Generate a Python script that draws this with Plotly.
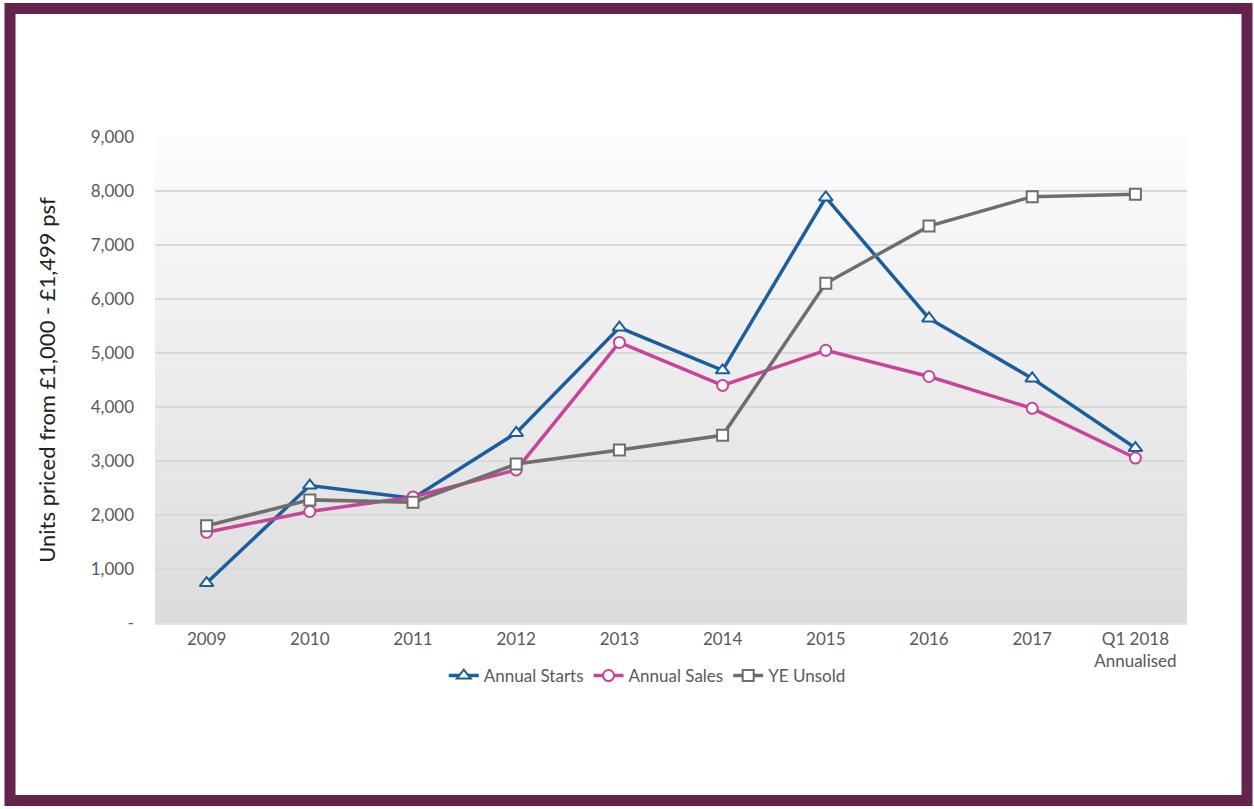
import plotly.graph_objects as go

categories = ["2009", "2010", "2011", "2012", "2013", "2014", "2015", "2016", "2017", "Q1 2018<br>Annualised"]
annual_starts = [740, 2545, 2310, 3520, 5470, 4680, 7880, 5640, 4530, 3240]
annual_sales = [1680, 2065, 2335, 2835, 5195, 4400, 5050, 4565, 3975, 3055]
ye_unsold = [1800, 2280, 2235, 2945, 3205, 3475, 6290, 7350, 7895, 7940]

y_tickvals = [0, 1000, 2000, 3000, 4000, 5000, 6000, 7000, 8000, 9000]
y_ticktext = ["-", "1,000", "2,000", "3,000", "4,000", "5,000", "6,000", "7,000", "8,000", "9,000"]

W, H = 1254, 809
L, R, T, B = 155, 1187, 137, 623
FONT = "Lato"

def px_x(px):
    return (px - L) / (R - L)

def px_y(py):
    return (B - py) / (B - T)

fig = go.Figure()

series = [
    ("Annual Starts", annual_starts, "#1B5E9E", "triangle-up", 12, 3.5),
    ("Annual Sales", annual_sales, "#C8449B", "circle", 11, 3.5),
    ("YE Unsold", ye_unsold, "#6E6E6E", "square", 11, 3.5),
]
for name, vals, col, sym, size, lw in series:
    fig.add_trace(go.Scatter(
        x=categories, y=vals, name=name, mode="lines+markers",
        line=dict(color=col, width=lw),
        marker=dict(symbol=sym, size=size, color="white", line=dict(color=col, width=2)),
    ))

shapes = []
# gradient plot background
n = 60
top_c = (252, 252, 252)
bot_c = (220, 220, 220)
for i in range(n):
    t = (i + 0.5) / n
    c = tuple(round(top_c[k] + (bot_c[k] - top_c[k]) * t) for k in range(3))
    shapes.append(dict(type="rect", xref="paper", yref="paper", x0=0, x1=1,
                       y0=1 - (i + 1) / n, y1=1 - i / n + 0.001,
                       fillcolor="rgb(%d,%d,%d)" % c, line=dict(width=0), layer="below"))
# purple frame
shapes.append(dict(type="rect", xref="paper", yref="paper",
                   x0=px_x(10), x1=px_x(1247), y0=px_y(8.5), y1=px_y(800.5),
                   line=dict(color="#64234C", width=11), fillcolor="rgba(0,0,0,0)", layer="above"))

fig.update_layout(
    width=W, height=H,
    margin=dict(l=L, r=W - R, t=T, b=H - B),
    paper_bgcolor="white", plot_bgcolor="white",
    font=dict(family=FONT, color="#595959", size=16),
    shapes=shapes,
    showlegend=True,
    legend=dict(orientation="h", x=0.477, xanchor="center", y=px_y(676), yanchor="middle",
                font=dict(size=17, color="#595959"), bgcolor="rgba(0,0,0,0)", itemwidth=30),
    xaxis=dict(type="category", range=[-0.5, 9.5], showgrid=False, showline=True,
               linecolor="#E6E6E6", linewidth=1.5,
               ticks="", tickfont=dict(size=17, color="#595959"), zeroline=False),
    yaxis=dict(range=[0, 9000], tickvals=y_tickvals, ticktext=y_ticktext,
               showgrid=True, gridcolor="#D9D9D9", gridwidth=1.5, zeroline=False,
               tickfont=dict(size=17, color="#595959"), ticks="", ticklabelstandoff=20,
               title=dict(text="Units priced from £1,000 - £1,499 psf", standoff=28,
                          font=dict(size=22, color="#222222"))),
)

fig.write_html("out.html")
